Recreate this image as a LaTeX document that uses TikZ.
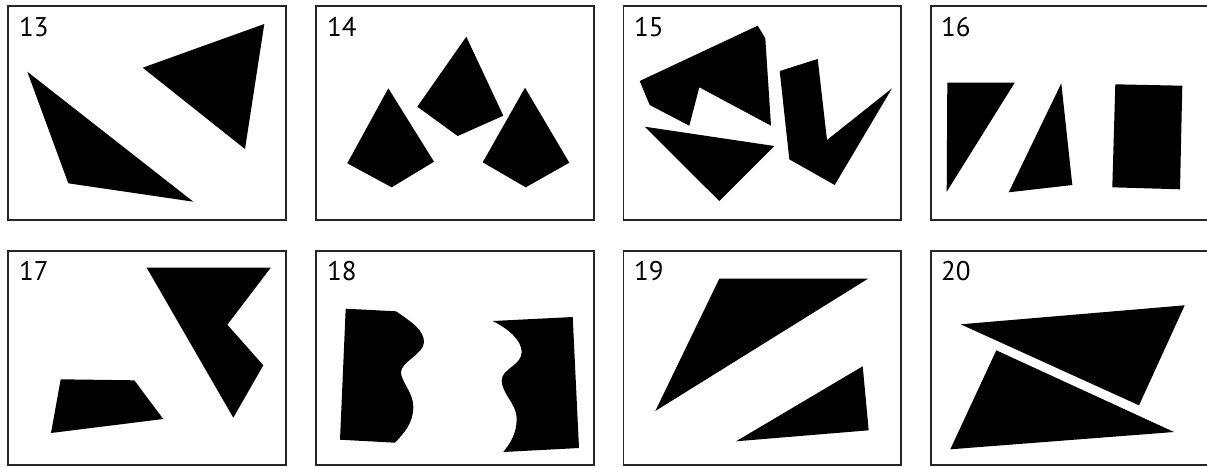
\documentclass[tikz,border=0pt]{standalone}
\usepackage{fontspec}
\setmainfont{PT Sans}
\begin{document}
\begin{tikzpicture}[x=1pt,y=-1pt,
  panel/.style={draw=black!85,line width=1.2pt},
  lbl/.style={anchor=base west,inner sep=0pt,font=\fontsize{27}{27}\selectfont},
  shp/.style={fill=black}]
\useasboundingbox (0,0) rectangle (1207,467);
% panel frames
\draw[panel] (8,6) rectangle (286,220);
\draw[panel] (316,6) rectangle (594,220);
\draw[panel] (623.5,6) rectangle (901,220);
\draw[panel] (931,6) rectangle (1210,220);
\draw[panel] (8,251) rectangle (286,465);
\draw[panel] (316,251) rectangle (594,465);
\draw[panel] (623.5,251) rectangle (901,465);
\draw[panel] (931,251) rectangle (1210,465);
% labels
\node[lbl] (l13) at (19,36.5) {13};
\node[lbl] (l14) at (327,36.5) {14};
\node[lbl] (l15) at (634,36.5) {15};
\node[lbl] (l16) at (941,36.5) {16};
\node[lbl] (l17) at (19,280.5) {17};
\node[lbl] (l18) at (327,280.5) {18};
\node[lbl] (l19) at (634,280.5) {19};
\node[lbl] (l20) at (941,280.5) {20};
% 13
\fill[shp] (27.3,71.7) -- (68.3,183.3) -- (193.3,201.7) -- cycle;
\fill[shp] (142.7,67.7) -- (264.3,24) -- (245,149) -- cycle;
% 14
\fill[shp] (388.3,88.3) -- (347.3,163.3) -- (391.7,187.3) -- (434,161.7) -- cycle;
\fill[shp] (466.3,36.7) -- (417.3,106.7) -- (457.7,136) -- (503.3,115.7) -- cycle;
\fill[shp] (525,87.7) -- (482.7,162.3) -- (525.7,187.3) -- (569.3,162.7) -- cycle;
% 15
\fill[shp] (639.7,81) -- (757.7,25.7) -- (765.3,38.3) -- (771,125.7) -- (699.3,87.3) -- (689.3,125.7) -- (649.7,105) -- cycle;
\fill[shp] (644.7,126.7) -- (774.3,146) -- (719.3,201) -- cycle;
\fill[shp] (779.7,71) -- (817.7,59) -- (827,140) -- (892,88.3) -- (834.7,185) -- (789.3,159.3) -- cycle;
% 16
\fill[shp] (947.3,82.7) -- (1014.7,82.7) -- (946.7,191.7) -- cycle;
\fill[shp] (1061.3,83.3) -- (1072.3,185) -- (1008.7,192.3) -- cycle;
\fill[shp] (1115.3,84.3) -- (1182.3,85.7) -- (1180,189.3) -- (1112.3,187.3) -- cycle;
% 17
\fill[shp] (146.7,267.7) -- (270.7,267.7) -- (227.3,324.7) -- (263.3,365.3) -- (233.3,417.7) -- cycle;
\fill[shp] (60.7,379.3) -- (134.3,380.3) -- (163.3,419) -- (51,433) -- cycle;
% 18
\fill[shp] (345.7,308.7) -- (396,311.3)
  .. controls (411.7,322) and (424,330.3) .. (424,342)
  .. controls (424,353.7) and (401,362) .. (401,372)
  .. controls (401,382) and (413.3,392) .. (413.3,407)
  .. controls (413.3,423.7) and (403.3,433.7) .. (395,442.7)
  -- (340,439.7) -- cycle;
\fill[shp] (492.7,321)
  .. controls (508.3,328.7) and (521.7,340.3) .. (521.7,352)
  .. controls (521.7,365.3) and (501.7,368.7) .. (501.7,380.3)
  .. controls (501.7,393.7) and (516.7,403.7) .. (516.7,418.7)
  .. controls (516.7,433.7) and (510,443.7) .. (503.3,452)
  -- (579,448) -- (572.7,317) -- cycle;
% 19
\fill[shp] (719.3,278.7) -- (868,278.7) -- (655.3,411) -- cycle;
\fill[shp] (862.7,366.3) -- (868.7,430.3) -- (736,441.3) -- cycle;
% 20
\fill[shp] (960.7,324.3) -- (1184.7,305.3) -- (1139,405.3) -- cycle;
\fill[shp] (996.3,350.3) -- (1174,432) -- (950.3,449.3) -- cycle;
\end{tikzpicture}
\end{document}
